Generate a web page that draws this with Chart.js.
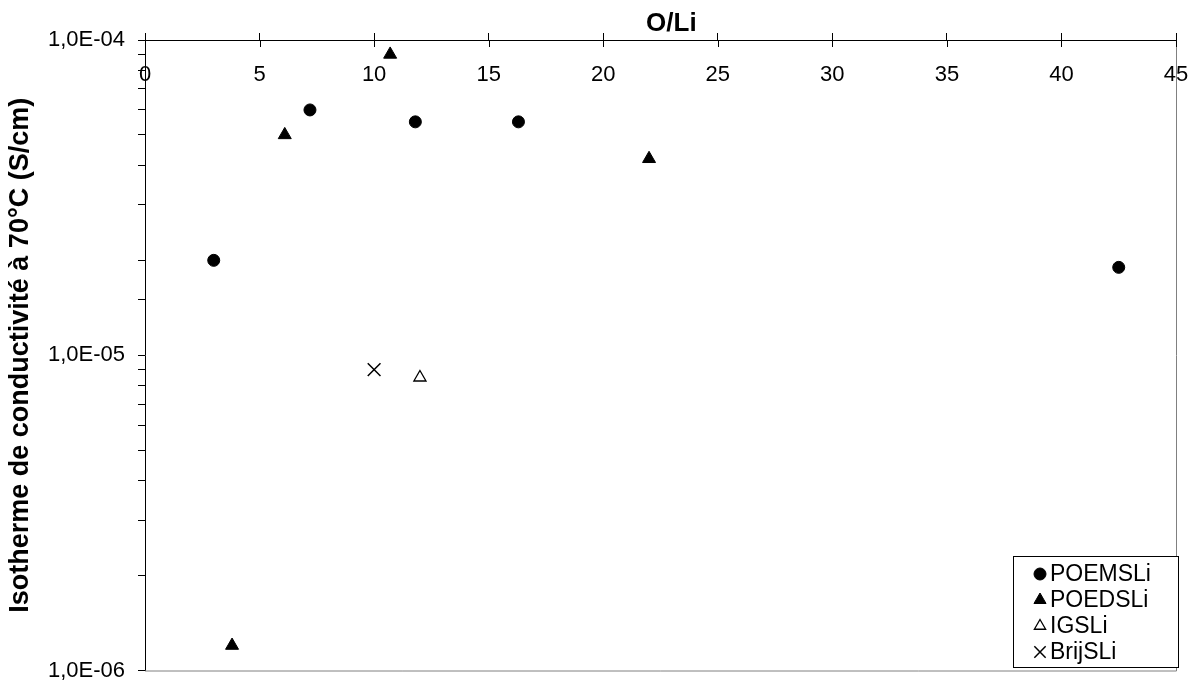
<!DOCTYPE html>
<html>
<head>
<meta charset="utf-8">
<script src="https://cdn.jsdelivr.net/npm/chart.js@4"></script>
<style>
  html, body { margin: 0; padding: 0; background: #fff; }
  .wrap { position: relative; width: 1192px; height: 681px; }
  .legend {
    position: absolute; left: 1013px; top: 556px; width: 164px; height: 110px;
    border: 1px solid #000; background: #fff; box-sizing: content-box;
    font-family: 'Liberation Sans', Arial, sans-serif; font-size: 23px; color: #000;
  }
  .legend .row { position: absolute; left: 0; width: 164px; height: 26px; }
  .legend canvas { position: absolute; left: 14px; top: 0; }
  .legend span { position: absolute; left: 36px; top: 0; line-height: 26px; white-space: nowrap; }
</style>
</head>
<body>
<div class="wrap">
  <canvas id="chart" width="1192" height="681"></canvas>
  <div class="legend" id="legend"></div>
</div>
<script>
// valeurs (O/Li, conductivité S/cm)
const poemsX = [3, 7.2, 11.8, 16.3, 42.5];
const poemsY = [2.0e-5, 6.0e-5, 5.5e-5, 5.5e-5, 1.9e-5];
const poedsX = [3.8, 6.1, 10.7, 22];
const poedsY = [1.2e-6, 5.0e-5, 9.0e-5, 4.2e-5];
const igsX = [12];
const igsY = [8.5e-6];
const brijX = [10];
const brijY = [9.0e-6];

const seriesNames = ['POEMSLi', 'POEDSLi', 'IGSLi', 'BrijSLi'];
const yTickLabels = ['1,0E-06', '1,0E-05', '1,0E-04'];

const toPoints = (xs, ys) => xs.map((x, i) => ({ x: x, y: ys[i] }));

const fontFamily = "'Liberation Sans', Arial, sans-serif";

// bordure grise droite / bas + graduations X qui traversent l'axe
const plotBorder = {
    id: 'plotBorder',
    afterDraw(chart) {
        const { ctx, chartArea } = chart;
        const xScale = chart.scales.x;
        ctx.save();
        ctx.strokeStyle = '#808080';
        ctx.lineWidth = 1;
        ctx.beginPath();
        ctx.moveTo(chartArea.right + 0.5, chartArea.top);
        ctx.lineTo(chartArea.right + 0.5, chartArea.bottom + 0.5);
        ctx.lineTo(chartArea.left, chartArea.bottom + 0.5);
        ctx.stroke();

        ctx.strokeStyle = '#000';
        ctx.beginPath();
        xScale.ticks.forEach((t, i) => {
            const px = Math.round(xScale.getPixelForTick(i)) + 0.5;
            ctx.moveTo(px, chartArea.top);
            ctx.lineTo(px, chartArea.top + 7);
        });
        ctx.stroke();
        ctx.restore();
    }
};

const ctx = document.getElementById('chart').getContext('2d');
const chart = new Chart(ctx, {
    type: 'scatter',
    data: {
        datasets: [
            {
                label: seriesNames[0],
                data: toPoints(poemsX, poemsY),
                pointStyle: 'circle',
                pointRadius: 6,
                backgroundColor: '#000',
                borderColor: '#000',
                borderWidth: 1
            },
            {
                label: seriesNames[1],
                data: toPoints(poedsX, poedsY),
                pointStyle: 'triangle',
                pointRadius: 7.5,
                backgroundColor: '#000',
                borderColor: '#000',
                borderWidth: 1
            },
            {
                label: seriesNames[2],
                data: toPoints(igsX, igsY),
                pointStyle: 'triangle',
                pointRadius: 7,
                backgroundColor: '#fff',
                borderColor: '#000',
                borderWidth: 1.3
            },
            {
                label: seriesNames[3],
                data: toPoints(brijX, brijY),
                pointStyle: 'crossRot',
                pointRadius: 9,
                backgroundColor: '#000',
                borderColor: '#000',
                borderWidth: 1.5
            }
        ]
    },
    options: {
        responsive: false,
        animation: false,
        layout: { padding: { left: 0, top: 0, right: 16, bottom: 9 } },
        plugins: {
            legend: { display: false },
            tooltip: { enabled: false }
        },
        scales: {
            x: {
                type: 'linear',
                position: 'top',
                min: 0,
                max: 45,
                afterFit: (scale) => {
                    scale.height = 40;
                    scale.paddingLeft = 0;
                    scale.paddingRight = 0;
                },
                ticks: {
                    stepSize: 5,
                    mirror: true,   // libellés sous l'axe, dans la zone de tracé
                    padding: 22,
                    color: '#000',
                    font: { family: fontFamily, size: 22 }
                },
                grid: {
                    drawOnChartArea: false,
                    drawTicks: true,
                    tickLength: 7,
                    color: '#000'
                },
                border: { color: '#000', width: 1 },
                title: {
                    display: true,
                    text: '   O/Li',
                    color: '#000',
                    padding: { top: 8, bottom: 0 },
                    font: { family: fontFamily, size: 26, weight: 'bold' }
                }
            },
            y: {
                type: 'logarithmic',
                position: 'left',
                min: 1e-6,
                max: 1e-4,
                afterFit: (scale) => {
                    scale.width = 145;
                    scale.paddingTop = 0;
                    scale.paddingBottom = 0;
                },
                ticks: {
                    autoSkip: false,
                    padding: 13,
                    color: '#000',
                    font: { family: fontFamily, size: 22 },
                    callback: (v) => {
                        const e = Math.log10(v);
                        const k = Math.round(e);
                        if (Math.abs(e - k) > 1e-6) return '';
                        return yTickLabels[k + 6];
                    }
                },
                grid: {
                    drawOnChartArea: false,
                    drawTicks: true,
                    tickLength: 7,
                    color: '#000'
                },
                border: { color: '#000', width: 1 },
                title: {
                    display: true,
                    text: 'Isotherme de conductivité à 70°C (S/cm)',
                    color: '#000',
                    padding: { top: 4, bottom: 0 },
                    font: { family: fontFamily, size: 27, weight: 'bold' }
                }
            }
        }
    },
    plugins: [plotBorder]
});

// légende dans un cadre en bas à droite, symboles dessinés par Chart.js
const legendBox = document.getElementById('legend');
const legendRadius = [6, 7, 6.5, 8];
chart.data.datasets.forEach((ds, i) => {
    const row = document.createElement('div');
    row.className = 'row';
    row.style.top = (3 + i * 26) + 'px';
    const c = document.createElement('canvas');
    c.width = 24;
    c.height = 26;
    const lctx = c.getContext('2d');
    lctx.fillStyle = ds.backgroundColor;
    lctx.strokeStyle = ds.borderColor;
    lctx.lineWidth = ds.borderWidth;
    Chart.helpers.drawPoint(lctx, {
        pointStyle: ds.pointStyle,
        radius: legendRadius[i],
        rotation: 0,
        borderWidth: ds.borderWidth
    }, 12, 14);
    const txt = document.createElement('span');
    txt.textContent = ds.label;
    row.appendChild(c);
    row.appendChild(txt);
    legendBox.appendChild(row);
});
</script>
</body>
</html>
